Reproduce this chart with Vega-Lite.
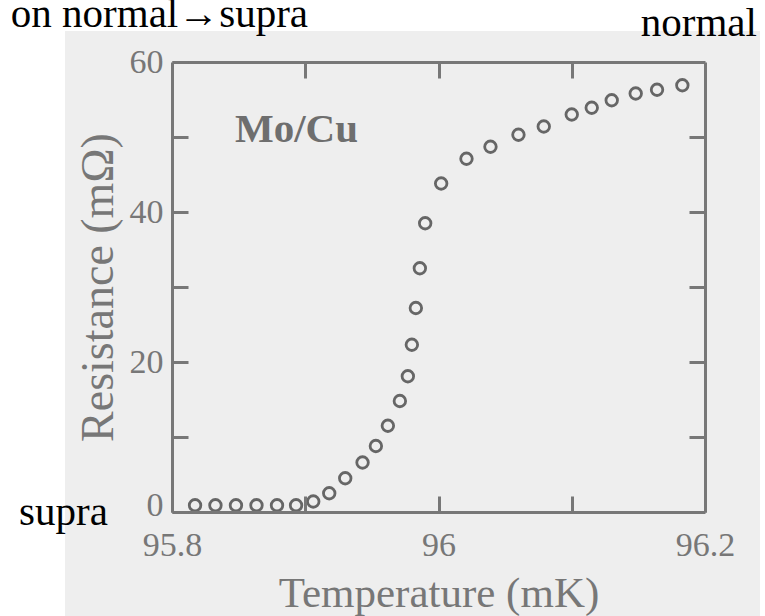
{
  "$schema": "https://vega.github.io/schema/vega-lite/v6.json",
  "width": 533,
  "height": 450,
  "autosize": {"type": "none"},
  "padding": {"left": 172, "top": 62, "right": 60, "bottom": 104},
  "background": "#eeeeee",
  "config": {
    "view": {"stroke": null},
    "font": "Liberation Serif",
    "axis": {
      "zindex": 1,
      "grid": false,
      "domainColor": "#777777",
      "domainWidth": 3,
      "tickColor": "#777777",
      "tickWidth": 3,
      "tickSize": -16,
      "labelFont": "Liberation Serif",
      "labelFontSize": 34,
      "labelColor": "#777777",
      "titleFont": "Liberation Serif",
      "titleFontSize": 43,
      "titleFontWeight": "normal",
      "titleColor": "#777777"
    }
  },
  "data": {
    "values": [
      {"T": 95.8173, "R": 0.9},
      {"T": 95.8326, "R": 0.9},
      {"T": 95.848, "R": 0.9},
      {"T": 95.8634, "R": 0.9},
      {"T": 95.8788, "R": 0.9},
      {"T": 95.8931, "R": 0.9},
      {"T": 95.906, "R": 1.4},
      {"T": 95.918, "R": 2.5},
      {"T": 95.93, "R": 4.5},
      {"T": 95.943, "R": 6.6},
      {"T": 95.953, "R": 8.8},
      {"T": 95.962, "R": 11.5},
      {"T": 95.971, "R": 14.8},
      {"T": 95.977, "R": 18.1},
      {"T": 95.98, "R": 22.3},
      {"T": 95.983, "R": 27.2},
      {"T": 95.986, "R": 32.5},
      {"T": 95.99, "R": 38.5},
      {"T": 96.002, "R": 43.8},
      {"T": 96.021, "R": 47.1},
      {"T": 96.039, "R": 48.7},
      {"T": 96.06, "R": 50.3},
      {"T": 96.079, "R": 51.4},
      {"T": 96.1, "R": 53.0},
      {"T": 96.115, "R": 53.9},
      {"T": 96.13, "R": 54.9},
      {"T": 96.148, "R": 55.8},
      {"T": 96.164, "R": 56.3},
      {"T": 96.183, "R": 56.9}
    ]
  },
  "resolve": {"axis": {"x": "independent", "y": "independent"}},
  "layer": [
    {
      "data": {"values": [{}]},
      "mark": {"type": "rect", "color": "#ffffff", "clip": false},
      "encoding": {
        "x": {"datum": 95.6, "type": "quantitative", "scale": {"domain": [95.8, 96.2], "nice": false, "zero": false}, "axis": null},
        "x2": {"datum": 96.3},
        "y": {"datum": 64.15, "type": "quantitative", "scale": {"domain": [0, 60], "nice": false, "zero": false}, "axis": null},
        "y2": {"datum": 70}
      }
    },
    {
      "data": {"values": [{}]},
      "mark": {"type": "rect", "color": "#ffffff", "clip": false},
      "encoding": {
        "x": {"datum": 95.6, "type": "quantitative", "scale": {"domain": [95.8, 96.2], "nice": false, "zero": false}, "axis": null},
        "x2": {"datum": 95.7197},
        "y": {"datum": 64.15, "type": "quantitative", "scale": {"domain": [0, 60], "nice": false, "zero": false}, "axis": null},
        "y2": {"datum": -15}
      }
    },
    {
      "data": {"values": [{}]},
      "mark": {"type": "rect", "color": "#ffffff", "clip": false},
      "encoding": {
        "x": {"datum": 96.2413, "type": "quantitative", "scale": {"domain": [95.8, 96.2], "nice": false, "zero": false}, "axis": null},
        "x2": {"datum": 96.3},
        "y": {"datum": 64.15, "type": "quantitative", "scale": {"domain": [0, 60], "nice": false, "zero": false}, "axis": null},
        "y2": {"datum": -15}
      }
    },
    {
      "data": {"values": [{}]},
      "mark": {"type": "text", "text": "normal", "align": "right", "baseline": "alphabetic", "font": "Liberation Serif", "fontSize": 41, "color": "#000000", "clip": false},
      "encoding": {
        "x": {"datum": 96.239, "type": "quantitative", "scale": {"domain": [95.8, 96.2], "nice": false, "zero": false}, "axis": null},
        "y": {"datum": 63.47, "type": "quantitative", "scale": {"domain": [0, 60], "nice": false, "zero": false}, "axis": null}
      }
    },
    {
      "data": {"values": [{}]},
      "mark": {"type": "text", "text": "supra", "align": "left", "baseline": "alphabetic", "font": "Liberation Serif", "fontSize": 41, "color": "#000000", "clip": false},
      "encoding": {
        "x": {"datum": 95.6852, "type": "quantitative", "scale": {"domain": [95.8, 96.2], "nice": false, "zero": false}, "axis": null},
        "y": {"datum": -1.73, "type": "quantitative", "scale": {"domain": [0, 60], "nice": false, "zero": false}, "axis": null}
      }
    },
    {
      "data": {"values": [{}]},
      "mark": {"type": "text", "text": "on normal→supra", "align": "right", "baseline": "alphabetic", "font": "Liberation Serif", "fontSize": 41, "color": "#000000", "clip": false},
      "encoding": {
        "x": {"datum": 95.9021, "type": "quantitative", "scale": {"domain": [95.8, 96.2], "nice": false, "zero": false}, "axis": null},
        "y": {"datum": 64.67, "type": "quantitative", "scale": {"domain": [0, 60], "nice": false, "zero": false}, "axis": null}
      }
    },
    {
      "data": {"values": [{}]},
      "mark": {"type": "text", "text": "Mo/Cu", "align": "left", "baseline": "alphabetic", "font": "Liberation Serif", "fontSize": 41, "fontWeight": "bold", "color": "#6e6e6e", "clip": false},
      "encoding": {
        "x": {"datum": 95.8473, "type": "quantitative", "scale": {"domain": [95.8, 96.2], "nice": false, "zero": false}, "axis": null},
        "y": {"datum": 49.33, "type": "quantitative", "scale": {"domain": [0, 60], "nice": false, "zero": false}, "axis": null}
      }
    },
    {
      "mark": {"type": "point", "shape": "circle", "filled": false, "size": 133, "strokeWidth": 2.8, "color": "#666666", "opacity": 1},
      "encoding": {
        "x": {
          "field": "T", "type": "quantitative",
          "scale": {"domain": [95.8, 96.2], "nice": false, "zero": false},
          "axis": {
            "orient": "bottom",
            "zindex": 1,
            "values": [95.8, 95.9, 96, 96.1, 96.2],
            "format": "~f",
            "labelExpr": "(datum.value == 95.9 || datum.value == 96.1) ? '' : datum.label",
            "labelPadding": 32,
            "labelFlush": false,
            "title": "Temperature (mK)",
            "titlePadding": 10
          }
        },
        "y": {
          "field": "R", "type": "quantitative",
          "scale": {"domain": [0, 60], "nice": false, "zero": false},
          "axis": {
            "orient": "left",
            "zindex": 1,
            "values": [0, 10, 20, 30, 40, 50, 60],
            "labelExpr": "datum.value % 20 == 0 ? datum.label : ''",
            "labelOffset": {"condition": {"test": "datum.value == 0", "value": -7}, "value": 0},
            "labelPadding": 25,
            "labelFlush": false,
            "title": "Resistance (mΩ)",
            "titleFontSize": 46,
            "titlePadding": 7
          }
        }
      }
    },
    {
      "mark": {"type": "point", "opacity": 0},
      "encoding": {
        "x": {
          "field": "T", "type": "quantitative",
          "scale": {"domain": [95.8, 96.2], "nice": false, "zero": false},
          "axis": {"orient": "top", "zindex": 1, "values": [95.9, 96, 96.1], "labels": false, "title": null}
        },
        "y": {
          "field": "R", "type": "quantitative",
          "scale": {"domain": [0, 60], "nice": false, "zero": false},
          "axis": {"orient": "right", "zindex": 1, "values": [10, 20, 30, 40, 50], "labels": false, "title": null}
        }
      }
    }
  ]
}
